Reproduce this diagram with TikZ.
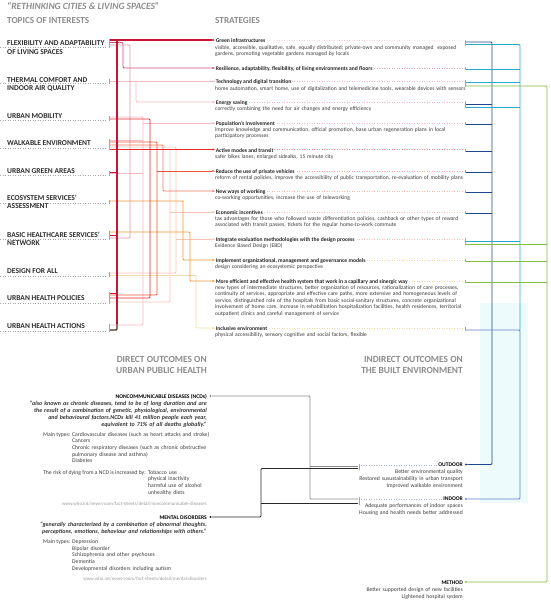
\documentclass[tikz,border=0pt]{standalone}
\usepackage{fontspec}
\setmainfont{Carlito}
\definecolor{hdr}{RGB}{140,140,140}
\definecolor{tpc}{RGB}{45,45,45}
\definecolor{txt}{RGB}{60,60,60}
\definecolor{crim}{RGB}{200,20,50}
\definecolor{rose}{RGB}{200,80,115}
\definecolor{rosep}{RGB}{222,150,170}
\definecolor{pinkp}{RGB}{245,185,195}
\definecolor{redc}{RGB}{232,40,40}
\definecolor{redo}{RGB}{235,85,55}
\definecolor{redol}{RGB}{240,120,90}
\definecolor{salp}{RGB}{245,195,185}
\definecolor{orng}{RGB}{245,150,50}
\definecolor{beig}{RGB}{240,220,170}
\definecolor{brwn}{RGB}{90,40,30}
\definecolor{bluD}{RGB}{30,70,140}
\definecolor{bluC}{RGB}{40,170,205}
\definecolor{bluM}{RGB}{100,125,200}
\definecolor{grn}{RGB}{130,190,60}
\definecolor{gryl}{RGB}{140,140,140}
\definecolor{blk}{RGB}{40,40,40}
\definecolor{cyanbg}{RGB}{238,251,253}
\definecolor{dotb}{RGB}{170,185,205}
\tikzset{
  hd/.style={anchor=base west, inner sep=0, text=hdr, font=\fontsize{9.2}{11}\selectfont\bfseries},
  hdr/.style={anchor=base east, inner sep=0, text=hdr, font=\fontsize{9.4}{11}\selectfont\bfseries, align=right},
  tp/.style={anchor=base west, inner sep=0, text=tpc, font=\fontsize{7.5}{9}\selectfont\bfseries},
  st/.style={anchor=base west, inner sep=0.6pt, fill=white, text=black!85, font=\fontsize{5.6}{6.4}\selectfont\bfseries},
  ds/.style={anchor=base west, inner sep=0, text=txt, text width=300pt, align=left, font=\fontsize{5.6}{6.4}\selectfont},
  rt/.style={anchor=base east, inner sep=0, text=txt, text width=220pt, align=right, font=\fontsize{5.7}{6.9}\selectfont},
  lt/.style={anchor=base west, inner sep=0, text=txt, text width=200pt, align=left, font=\fontsize{5.7}{6.7}\selectfont},
  lab/.style={anchor=base west, inner sep=0, text=txt, font=\fontsize{5.7}{6.7}\selectfont},
  ot/.style={anchor=base east, inner sep=0, text=black, font=\fontsize{5.6}{6.4}\selectfont\bfseries},
  url/.style={anchor=base east, inner sep=0, text=gray!80, font=\fontsize{4.9}{5}\selectfont},
  qt/.style={anchor=base east, inner sep=0, text=black!80, text width=220pt, align=right, font=\fontsize{6}{7}\selectfont\bfseries\itshape},
  cn/.style={line width=0.9pt, rounded corners=1pt},
  dl/.style={dotted, line width=0.5pt},
  tk/.style={draw=gray!70, line width=0.6pt},
  sdot/.style={circle, inner sep=0, minimum size=2.3pt},
}
\begin{document}
\begin{tikzpicture}[x=1pt,y=-1pt]
\useasboundingbox (0,0) rectangle (550,600);
\fill[cyanbg] (480,303) rectangle (528,503);

% ---------- headers
\node[hd, font=\fontsize{9.5}{10}\selectfont\bfseries\itshape] (title) at (7,9.5) {“RETHINKING CITIES \& LIVING SPACES”};
\node[hd] (hTop) at (7,23) {TOPICS OF INTERESTS};
\node[hd] (hStr) at (215,23) {STRATEGIES};

% ---------- topics
\foreach \d in {47,83,120,148,175,203,239,276,303,331}
  \draw[dl, gray!70] (0,\d) -- (107,\d);
\node[tp] (t1) at (7,45) {FLEXIBILITY AND ADAPTABILITY};
\node[tp] (t1b) at (7,54) {OF LIVING SPACES};
\node[tp] (t2) at (7,82) {THERMAL COMFORT AND};
\node[tp] (t2b) at (7,90.5) {INDOOR AIR QUALITY};
\node[tp] (t3) at (7,118) {URBAN MOBILITY};
\node[tp] (t4) at (7,145.5) {WALKABLE ENVIRONMENT};
\node[tp] (t5) at (7,173) {URBAN GREEN AREAS};
\node[tp] (t6) at (7,200) {ECOSYSTEM SERVICES’};
\node[tp] (t6b) at (7,208.5) {ASSESSMENT};
\node[tp] (t7) at (7,237) {BASIC HEALTHCARE SERVICES’};
\node[tp] (t7b) at (7,245.5) {NETWORK};
\node[tp] (t8) at (7,273.5) {DESIGN FOR ALL};
\node[tp] (t9) at (7,300.5) {URBAN HEALTH POLICIES};
\node[tp] (t10) at (7,328) {URBAN HEALTH ACTIONS};

% ---------- strategy dots (left ends)
\node[sdot, fill=crim]  (d1)  at (213,40) {};
\node[sdot, fill=rose]  (d2)  at (213,68) {};
\node[sdot, fill=pinkp] (d3)  at (213,81.5) {};
\node[sdot, fill=pinkp] (d4)  at (213,102) {};
\node[sdot, fill=pinkp] (d5)  at (213,123) {};
\node[sdot, fill=redc]  (d6)  at (213,149.5) {};
\node[sdot, fill=redo]  (d7)  at (213,171) {};
\node[sdot, fill=redol] (d8)  at (213,191) {};
\node[sdot, fill=salp]  (d9)  at (213,212) {};
\node[sdot, fill=salp]  (d10) at (213,239) {};
\node[sdot, fill=orng]  (d11) at (213,260) {};
\node[sdot, fill=orng]  (d12) at (213,281) {};
\node[sdot, fill=beig]  (d13) at (213,328) {};

% dotted lines after strategy titles
\draw[dl, crim!55]  (d1)  -- (464,41);
\draw[dl, rose!55]  (d2)  -- (464,68);
\draw[dl, pinkp]    (d3)  -- (464,81.5);
\draw[dl, pinkp]    (d4)  -- (464,102);
\draw[dl, pinkp]    (d5)  -- (464,123);
\draw[dl, redc!50]  (d6)  -- (464,149.5);
\draw[dl, redo!50]  (d7)  -- (464,171);
\draw[dl, redol!50] (d8)  -- (464,191);
\draw[dl, salp]     (d9)  -- (464,212);
\draw[dl, salp]     (d10) -- (464,239);
\draw[dl, orng!45]  (d11) -- (464,260);
\draw[dl, orng!45]  (d12) -- (464,281);
\draw[dl, beig]     (d13) -- (464,328);

% ---------- topic -> strategy connectors (pale first)
\draw[cn, pinkp] (110,117) -| (143,325) -- (110,325);
\draw[cn, pinkp] (110,140) -- (143,140);
\draw[cn, pinkp] (110,173) -- (143,173);
\draw[cn, pinkp] (143,123) -- (d5);
\draw[cn, pinkp] (110,81.5) -- (d3);
\draw[cn, pinkp] (136,81.5) |- (d4);
\draw[cn, rosep] (110,45) -| (130,238) -- (110,238);
\draw[cn, salp]  (110,302) -| (170,149.5);
\draw[cn, salp]  (170,212) -- (d9);
\draw[cn, salp]  (110,147) -| (176,273) -- (110,273);
\draw[cn, salp]  (176,239) -- (d10);
\draw[cn, beig]  (110,275.5) -| (196,328) -- (d13);
\draw[cn, rose]  (110,42.5) -| (123,68) -- (d2);
\draw[cn, orng]  (110,201) -| (183,260) -- (d11);
\draw[cn, orng]  (110,232) -| (190,281) -- (d12);
\draw[cn, redol] (110,145) -| (163,191) -- (d8);
\draw[cn, redo]  (110,142) -| (157,295) -- (110,295);
\draw[cn, redo]  (157,171) -- (d7);
\draw[cn, redc]  (110,119) -| (150,298) -- (110,298);
\draw[cn, redc]  (110,149.5) -- (d6);
\draw[cn, crim, line width=1.1pt] (110,40) -- (d1);
\draw[cn, crim, line width=1.1pt] (117,40) -- (117,324);
\draw[cn, crim] (110,172.5) -- (117,172.5);
\draw[cn, crim] (110,235) -- (117,235);
\draw[cn, crim] (110,293) -- (117,293);
\draw[cn, brwn, line width=1.1pt] (117,322) -- (117,330) -- (110,330);

% topic ticks
\foreach \a/\b in {39/48, 79/84, 116/121, 139/150, 171/176, 200/204, 231/240, 272/277, 292/304, 324/332}
  \draw[tk] (109,\a) -- (109,\b);

% ---------- strategies text
\node[st] (s1) at (215,42) {Green infrastructures};
\node[ds] (s1d) at (215,49) {visible, accessible, qualitative, safe, equally distributed; private-own and community managed\ \ exposed\\gardens, promoting vegetable gardens managed by locals};
\node[st] (s2) at (215,70) {Resilience, adaptability, flexibility, of living environments and floors};
\node[st] (s3) at (215,83.5) {Technology and digital transition};
\node[ds] (s3d) at (215,90) {home automation, smart home, use of digitalization and telemedicine tools, wearable devices with sensors};
\node[st] (s4) at (215,104) {Energy saving};
\node[ds] (s4d) at (215,110.5) {correctly combining the need for air changes and energy efficiency};
\node[st] (s5) at (215,125) {Population’s involvement};
\node[ds] (s5d) at (215,131.5) {improve knowledge and communication, official promotion, base urban regeneration plans in local\\participatory processes};
\node[st] (s6) at (215,152) {Active modes and transit};
\node[ds] (s6d) at (215,158.5) {safer bikes lanes, enlarged sidealks, 15 minute city};
\node[st] (s7) at (215,173) {Reduce the use of private vehicles};
\node[ds] (s7d) at (215,179.5) {reform of rental policies, improve the accessibility of public transportation, re-evaluation of mobility plans};
\node[st] (s8) at (215,193) {New ways of working};
\node[ds] (s8d) at (215,199.5) {co-working opportunities, increase the use of teleworking};
\node[st] (s9) at (215,214) {Economic incentives};
\node[ds] (s9d) at (215,220.5) {tax advantages for those who followed waste differentiation policies, cashback or other types of reward\\associated with transit passes, tickets for the regular home-to-work commute};
\node[st] (s10) at (215,241) {Integrate evaluation methodologies with the design process};
\node[ds] (s10d) at (215,247.5) {Evidence Based Design (EBD)};
\node[st] (s11) at (215,262) {Implement organizational, management and governance models};
\node[ds] (s11d) at (215,268.5) {design considering an ecosystemic perspective};
\node[st] (s12) at (215,283) {More efficient and effective health system that work in a capillary and sinergic way};
\node[ds] (s12d) at (215,289.5) {new types of intermediate structures, better organization of resources, rationalization of care processes,\\continuity of services, appropriate and effective care paths, more extensive and homogeneous levels of\\service, distinguished role of the hospitals from basic social-sanitary structures, concrete organizational\\involvement of home care, increase in rehabilitation hospitalization facilities, health residences, territorial\\outpatient clinics and careful management of service};
\node[st] (s13) at (215,330) {Inclusive environment};
\node[ds] (s13d) at (215,336.5) {physical accessibility, sensory cognitive and social factors, flexible};

% ---------- outcomes (right)
\node[hdr] (hInd) at (463,373) {INDIRECT OUTCOMES ON\\THE BUILT ENVIRONMENT};
\node[ot] (out) at (463,466.5) {OUTDOOR};
\node[rt] (outd) at (463,473.5) {Better environmental quality\\Restored susustainability in urban transport\\Improved walkable environment};
\node[ot] (ind) at (463,500.5) {INDOOR};
\node[rt] (indd) at (463,507.5) {Adequate performances of indoor spaces\\Housing and health needs better addressed};
\node[ot] (met) at (463,584) {METHOD};
\node[rt] (metd) at (463,591.2) {Better supported design of new facilities\\Lightened hospital system};
\node[sdot, fill=bluD] (oD) at (466,464.5) {};
\node[sdot, fill=bluM] (iD) at (466,499) {};
\node[sdot, fill=grn]  (mD) at (466,582) {};
\draw[dl, dotb] (361,465) -- (out.west |- 0,465);
\draw[dl, dotb] (361,499) -- (ind.west |- 0,499);

% right-side buses
\draw[cn, bluD] (466,42) -| (492,464.5) -- (oD);
\foreach \y in {104,124,151,172,192,213}
  \draw[cn, bluD] (466,\y) -- (492,\y);
\draw[cn, bluC] (466,44.5) -| (520,330);
\foreach \y in {69,82,107,241}
  \draw[cn, bluC] (466,\y) -- (520,\y);
\draw[cn, bluM] (466,330) -| (520,499) -- (iD);
\draw[cn, grn] (466,86) -| (547,582) -- (mD);
\foreach \y in {244,261,282}
  \draw[cn, grn] (466,\y) -- (547,\y);
\foreach \a/\b in {40/46, 67/70, 80/87, 101/108, 122/125, 149/152, 170/173, 190/193, 211/214, 238/245, 259/262, 280/283, 327/331}
  \draw[tk] (465,\a) -- (465,\b);

% ---------- direct outcomes (left bottom)
\node[hdr] (hDir) at (207,373) {DIRECT OUTCOMES ON\\URBAN PUBLIC HEALTH};
\node[ot] (ncd) at (207,398) {NONCOMMUNICABLE DISEASES (NCDs)};
\node[qt] (ncdq) at (207,405) {“also known as chronic diseases, tend to be of long duration and are\\the result of a combination of genetic, physiological, environmental\\and behavioural factors.NCDs kill 41 million people each year,\\equivalent to 71\% of all deaths globally.”};
\node[lab] (mt1) at (43,436) {Main types:};
\node[lt] (mt1d) at (72,436) {Cardiovascular diseases (such as heart attacks and stroke)\\Cancers\\Chronic respiratory diseases (such as chronic obstructive\\pulmonary disease and asthma)\\Diabetes};
\node[lab] (rk) at (43,474) {The risk of dying from a NCD is increased by:};
\node[lt] (rkd) at (148,474) {Tobacco use\\physical inactivity\\harmful use of alcohol\\unhealthy diets};
\node[url] (u1) at (207,505.5) {www.who.int/news-room/fact-sheets/detail/noncommunicable-diseases};
\node[ot] (mnt) at (207,519) {MENTAL DISORDERS};
\node[qt] (mntq) at (207,526) {“generally characterized by a combination of abnormal thoughts,\\perceptions, emotions, behaviour and relationships with others.”};
\node[lab] (mt2) at (43,543.5) {Main types:};
\node[lt] (mt2d) at (72,543.5) {Depression\\Bipolar disorder\\Schizophrenia and other psychoses\\Dementia\\Developmental disorders including autism};
\node[url] (u2) at (207,580.5) {www.who.int/news-room/fact-sheets/detail/mental-disorders};

\node[sdot, fill=gryl] (nD) at (210.5,396) {};
\node[sdot, fill=blk]  (mDo) at (210.5,517) {};
\draw[cn, gryl] (nD) -- (310,396) |- (358,499);
\draw[cn, gryl] (310,466) -- (358,466);
\draw[cn, blk] (mDo) -- (261,517) |- (358,468.5);
\draw[cn, blk] (261,503) -- (358,503);
\draw[tk] (359.5,464) -- (359.5,470);
\draw[tk] (359.5,497) -- (359.5,504.5);
\end{tikzpicture}
\end{document}
